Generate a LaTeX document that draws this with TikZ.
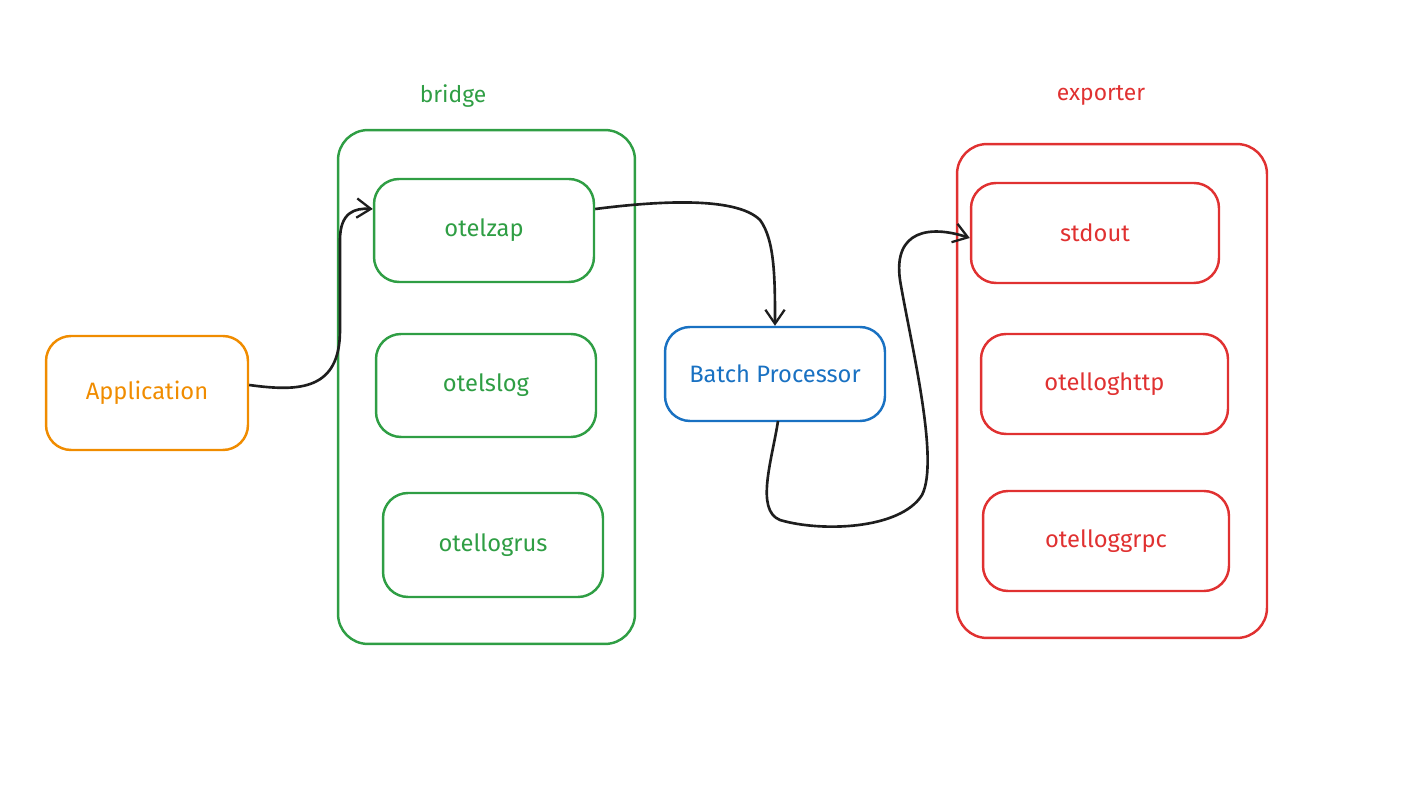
\documentclass[tikz,border=0pt]{standalone}
\usepackage{fontspec}
\setmainfont{Fira Sans}
\usetikzlibrary{arrows.meta}
\definecolor{exorange}{HTML}{F08C00}
\definecolor{exgreen}{HTML}{2F9E44}
\definecolor{exblue}{HTML}{1971C2}
\definecolor{exred}{HTML}{E03131}
\definecolor{exblack}{HTML}{1E1E1E}
\tikzset{
  box/.style={draw, line width=1.4pt, rounded corners=0.5cm, inner sep=0pt, font=\fontsize{13.5}{16}\selectfont},
  container/.style={draw, line width=1.4pt, rounded corners=0.6cm, inner sep=0pt},
  grouplabel/.style={font=\fontsize{13}{15}\selectfont},
  conn/.style={draw=exblack, line width=1.5pt, -{Straight Barb[length=8pt,width=11pt,line width=1.3pt]}}
}
\begin{document}
\begin{tikzpicture}[x=0.02cm,y=-0.02cm]
\useasboundingbox (0,0) rectangle (1403,793);
% containers
\node[container, draw=exgreen, minimum width=5.94cm, minimum height=10.28cm] (bridgebox) at (486.5,387) {};
\node[container, draw=exred, minimum width=6.2cm, minimum height=9.88cm] (exportbox) at (1112,391) {};
\node[grouplabel, text=exgreen] (bridgelbl) at (453,96) {bridge};
\node[grouplabel, text=exred] (exportlbl) at (1101,95) {exporter};
% boxes
\node[box, draw=exorange, text=exorange, minimum width=4.04cm, minimum height=2.28cm] (app) at (147,393) {Application};
\node[box, draw=exgreen, text=exgreen, minimum width=4.4cm, minimum height=2.06cm] (zap) at (484,230.5) {otelzap};
\node[box, draw=exgreen, text=exgreen, minimum width=4.4cm, minimum height=2.06cm] (slog) at (486,385.5) {otelslog};
\node[box, draw=exgreen, text=exgreen, minimum width=4.4cm, minimum height=2.08cm] (logrus) at (493,545) {otellogrus};
\node[box, draw=exblue, text=exblue, minimum width=4.4cm, minimum height=1.88cm] (batch) at (775,374) {Batch Processor};
\node[box, draw=exred, text=exred, minimum width=4.96cm, minimum height=2.0cm] (stdout) at (1095,233) {stdout};
\node[box, draw=exred, text=exred, minimum width=4.94cm, minimum height=2.0cm] (http) at (1104.5,384) {otelloghttp};
\node[box, draw=exred, text=exred, minimum width=4.92cm, minimum height=2.0cm] (grpc) at (1106,541) {otelloggrpc};
% connectors
\coordinate (a1) at (app.east |- 0,385);
\coordinate (a2) at (zap.west |- 0,209);
\draw[conn] (a1) .. controls (300,392) and (340,390) .. (340,330)
  -- (340,240) .. controls (340,212) and (355,208) .. (a2);
\coordinate (b1) at (zap.east |- 0,209);
\draw[conn] (b1) .. controls (650,202) and (735,195) .. (760,220)
  .. controls (775,240) and (775,280) .. (batch.north);
\coordinate (c1) at (778,421);
\coordinate (c2) at (stdout.west |- 0,238);
\draw[conn] (c1) .. controls (772,460) and (755,510) .. (780,520)
  .. controls (820,532) and (900,530) .. (922,495)
  .. controls (940,460) and (910,340) .. (900,280)
  .. controls (893,230) and (930,225) .. (c2);
\end{tikzpicture}
\end{document}
